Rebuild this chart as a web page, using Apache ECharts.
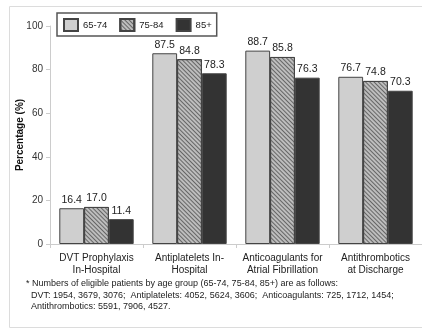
<!DOCTYPE html>
<html><head><meta charset="utf-8">
<script src="https://cdn.jsdelivr.net/npm/echarts@6/dist/echarts.min.js"></script>
<style>html,body{margin:0;padding:0;background:#fff}#c{width:422px;height:329px}</style>
</head><body><div id="c"></div>
<script>
const categories = ['DVT Prophylaxis\nIn-Hospital', 'Antiplatelets In-\nHospital', 'Anticoagulants for\nAtrial Fibrillation', 'Antithrombotics\nat Discharge'];
const seriesNames = ['65-74', '75-84', '85+'];
const age6574 = [16.4, 87.5, 88.7, 76.7];
const age7584 = [17.0, 84.8, 85.8, 74.8];
const age85 = [11.4, 78.3, 76.3, 70.3];
const yTicks = [0, 20, 40, 60, 80, 100];
const footnote = [
  '* Numbers of eligible patients by age group (65-74, 75-84, 85+) are as follows:',
  '  DVT: 1954, 3679, 3076;  Antiplatelets: 4052, 5624, 3606;  Anticoagulants: 725, 1712, 1454;',
  '  Antithrombotics: 5591, 7906, 4527.'
];

const font = 'Liberation Sans, Arial, sans-serif';
const chart = echarts.init(document.getElementById('c'));
const label = {show: true, position: 'top', distance: 3, color: '#222', fontSize: 10.5, fontFamily: font, formatter: p => p.value.toFixed(1)};
const border = {borderColor: '#444', borderWidth: 1};
chart.setOption({
  animation: false,
  textStyle: {fontFamily: font},
  graphic: [
    {type: 'rect', shape: {x: 9.5, y: 6.5, width: 420, height: 321}, style: {fill: 'none', stroke: '#dcdcdc', lineWidth: 1}, silent: true},
    {type: 'text', left: 26, top: 278, style: {text: footnote.join('\n'), font: '9px ' + font, fill: '#222', lineHeight: 11.5}}
  ],
  legend: {
    data: seriesNames, left: 57, top: 13, orient: 'horizontal', icon: 'rect',
    padding: [5, 5, 4, 6], borderColor: '#555', borderWidth: 1.5,
    itemWidth: 14, itemHeight: 12, itemGap: 12,
    textStyle: {fontSize: 9.5, color: '#222', fontFamily: font}
  },
  grid: {left: 50, right: -2, top: 26, bottom: 85},
  xAxis: {
    type: 'category', data: categories,
    axisLine: {lineStyle: {color: '#ccc'}},
    axisTick: {show: true, length: 4, lineStyle: {color: '#ccc'}},
    axisLabel: {interval: 0, color: '#222', fontSize: 10, fontFamily: font, lineHeight: 12, margin: 8}
  },
  yAxis: {
    type: 'value', min: yTicks[0], max: yTicks[yTicks.length - 1], interval: 20,
    name: 'Percentage (%)', nameLocation: 'middle', nameGap: 25, nameMoveOverlap: false,
    nameTextStyle: {fontWeight: 'bold', fontSize: 10, color: '#111', fontFamily: font},
    axisLine: {show: true, lineStyle: {color: '#ccc'}},
    axisTick: {show: true, length: 4, lineStyle: {color: '#ccc'}},
    splitLine: {show: false},
    axisLabel: {color: '#333', fontSize: 10, fontFamily: font, margin: 7}
  },
  series: [
    {name: seriesNames[0], type: 'bar', data: age6574, barGap: '0%', barCategoryGap: '20%',
     itemStyle: Object.assign({color: '#cfcfcf'}, border), label},
    {name: seriesNames[1], type: 'bar', data: age7584, barGap: '0%', barCategoryGap: '20%',
     itemStyle: Object.assign({color: '#bdbdbd', decal: {symbol: 'rect', color: '#666', dashArrayX: [1, 0], dashArrayY: [1, 1.2], rotation: Math.PI / 4, symbolSize: 1}}, border), label},
    {name: seriesNames[2], type: 'bar', data: age85, barGap: '0%', barCategoryGap: '20%',
     itemStyle: Object.assign({color: '#333333'}, border), label}
  ]
});
</script></body></html>
